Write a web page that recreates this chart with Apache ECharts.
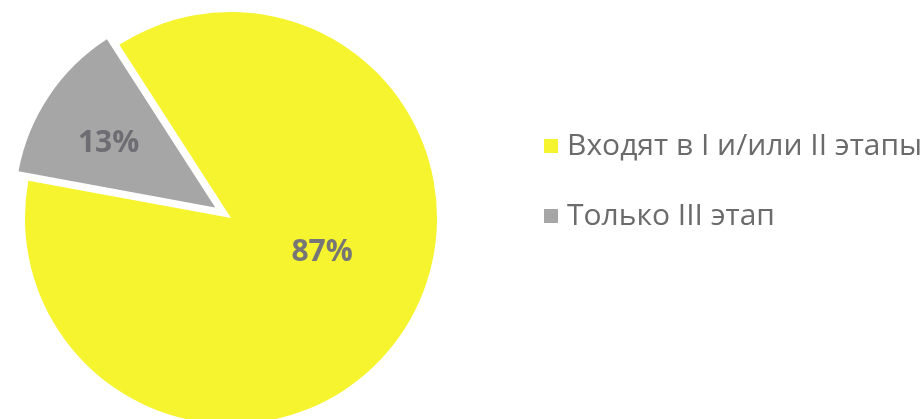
<!DOCTYPE html>
<html><head><meta charset="utf-8">
<script src="https://cdn.jsdelivr.net/npm/echarts@6/dist/echarts.min.js"></script>
<style>html,body{margin:0;padding:0;background:#fff}#c{width:922px;height:419px}</style>
</head><body><div id="c"></div>
<script>
const categories = ["Входят в I и/или II этапы", "Только III этап"];
const values = [87, 13];
const colors = ["#f6f42e", "#a6a6a6"];
const labelColors = ["#767676", "#6d6d73"];
const labelShifts = [[3, -25], [-21, -7]];
const radii = [206, 200];

const chart = echarts.init(document.getElementById('c'), null, {renderer: 'canvas'});
function makeSeries(k) {
  return {
    type: 'pie', name: 's' + k,
    center: [231, 218], radius: radii[k],
    startAngle: 122.8, clockwise: true,
    selectedMode: 'multiple', selectedOffset: 19,
    label: {position: 'inside', fontFamily: 'Open Sans', fontWeight: 'bold', fontSize: 30},
    labelLine: {show: false},
    labelLayout: function (p) { return {dx: labelShifts[p.dataIndex][0], dy: labelShifts[p.dataIndex][1]}; },
    emphasis: {disabled: true},
    silent: true,
    data: categories.map((n, i) => ({
      name: n, value: values[i], selected: i === 1,
      itemStyle: {color: i === k ? colors[i] : 'rgba(0,0,0,0)'},
      label: {show: i === k, color: labelColors[i], formatter: values[i] + '%'}
    }))
  };
}
chart.setOption({
  animation: false,
  legend: {
    orient: 'vertical', left: 539, top: 126,
    icon: 'rect', itemWidth: 14, itemHeight: 14, itemGap: 40,
    textStyle: {fontFamily: 'Open Sans', fontSize: 30, color: '#6b6b6b', lineHeight: 30, padding: [0,0,0,4]},
    selectedMode: false,
    data: categories.map((n, i) => ({name: n, itemStyle: {color: colors[i]}}))
  },
  series: [makeSeries(0), makeSeries(1)]
});
</script></body></html>
